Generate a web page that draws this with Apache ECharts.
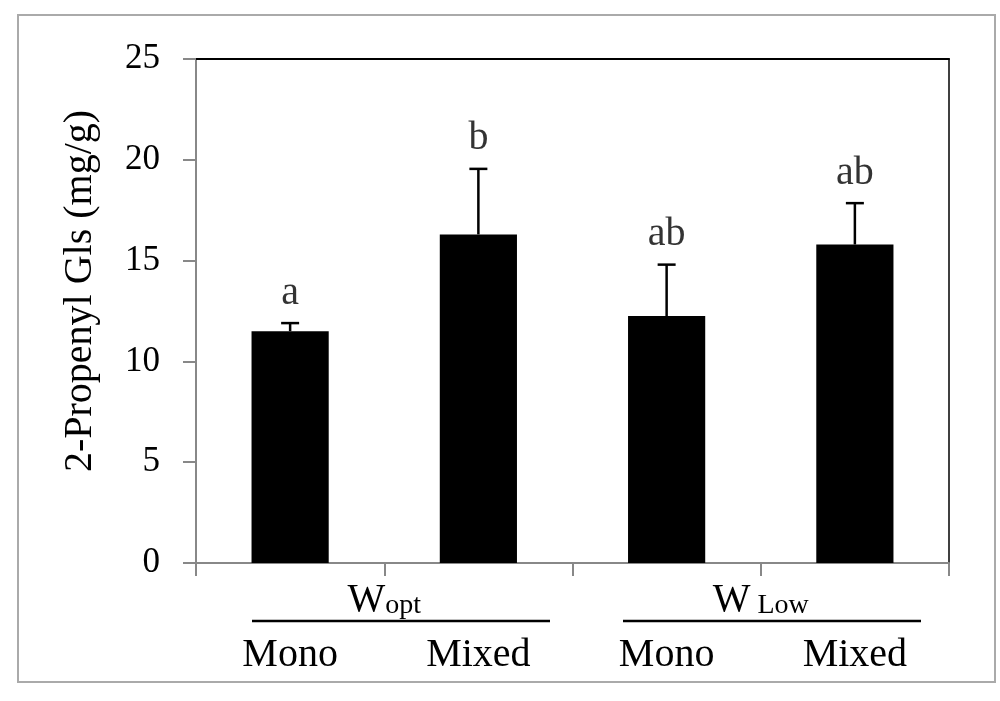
<!DOCTYPE html>
<html>
<head>
<meta charset="utf-8">
<script src="https://cdn.jsdelivr.net/npm/echarts@6/dist/echarts.min.js"></script>
<style>html,body{margin:0;padding:0;background:#fff;}#c{width:1000px;height:701px;}</style>
</head>
<body>
<div id="c"></div>
<script>
const categories = ['Mono', 'Mixed', 'Mono', 'Mixed'];
const groups = ['opt', 'Low'];
const means = [11.5, 16.3, 12.25, 15.8];
const errors = [0.4, 3.25, 2.55, 2.05];
const letters = ['a', 'b', 'ab', 'ab'];
const yMin = 0, yMax = 25, yStep = 5;

const F = 'Liberation Serif, Times New Roman, serif';
const chart = echarts.init(document.getElementById('c'));

const option = {
  animation: false,
  backgroundColor: '#fff',
  grid: { left: 196, right: 51, top: 59, bottom: 138, containLabel: false },
  xAxis: [
    {
      type: 'category', data: categories, position: 'bottom',
      axisLine: { show: true, lineStyle: { color: '#888', width: 2 } },
      axisTick: { show: true, length: 13, lineStyle: { color: '#888', width: 2 } },
      axisLabel: { margin: 72, color: '#000', fontFamily: F, fontSize: 40, lineHeight: 40 }
    },
    {
      type: 'category', data: groups, position: 'bottom',
      axisLine: { show: false }, axisTick: { show: false },
      axisLabel: {
        margin: 17, color: '#000', fontFamily: F,
        formatter: v => v === 'opt' ? '{w|W}{s|opt}' : '{w|W}{s| Low}',
        rich: {
          w: { fontFamily: F, fontSize: 40, lineHeight: 40, color: '#000' },
          s: { fontFamily: F, fontSize: 28, lineHeight: 28, color: '#000', verticalAlign: 'bottom' }
        }
      }
    },
    {
      type: 'category', data: categories, position: 'top',
      axisLine: { show: true, lineStyle: { color: '#000', width: 2 } },
      axisTick: { show: false }, axisLabel: { show: false }
    }
  ],
  yAxis: [
    {
      type: 'value', min: yMin, max: yMax, interval: yStep,
      name: '2-Propenyl Gls (mg/g)', nameLocation: 'middle', nameGap: 96, nameRotate: 90,
      nameTextStyle: { fontFamily: F, fontSize: 40, color: '#000', padding: [0, 0, 0, 40] },
      axisLine: { show: true, lineStyle: { color: '#888', width: 2 } },
      axisTick: { show: true, length: 13, lineStyle: { color: '#888', width: 2 } },
      axisLabel: { margin: 36, color: '#000', fontFamily: F, fontSize: 35 },
      splitLine: { show: false }
    },
    {
      type: 'value', min: yMin, max: yMax, interval: yStep, position: 'right',
      axisLine: { show: true, lineStyle: { color: '#000', width: 1.5 } },
      axisTick: { show: false }, axisLabel: { show: false }, splitLine: { show: false }
    }
  ],
  series: [
    {
      type: 'bar', xAxisIndex: 0, yAxisIndex: 0, data: means, barWidth: '41%',
      itemStyle: { color: '#000' }
    },
    {
      type: 'custom', xAxisIndex: 0, yAxisIndex: 0,
      data: means.map((m, i) => [i, m, m + errors[i]]),
      renderItem: (params, api) => {
        const b = api.coord([api.value(0), api.value(1)]);
        const t = api.coord([api.value(0), api.value(2)]);
        const st = { stroke: '#000', lineWidth: 2.5 };
        return {
          type: 'group', children: [
            { type: 'line', shape: { x1: b[0], y1: b[1], x2: t[0], y2: t[1] }, style: st },
            { type: 'line', shape: { x1: t[0] - 9, y1: t[1], x2: t[0] + 9, y2: t[1] }, style: st }
          ]
        };
      },
      z: 3
    },
    {
      type: 'scatter', xAxisIndex: 0, yAxisIndex: 0, symbolSize: 0,
      data: means.map((m, i) => [i, m + errors[i]]),
      label: {
        show: true, position: 'top', distance: 10, color: '#000', fontFamily: F, fontSize: 40,
        formatter: p => letters[p.dataIndex]
      }
    }
  ],
  graphic: [
    { type: 'rect', shape: { x: 18, y: 15, width: 977, height: 667 }, style: { fill: 'none', stroke: '#aaa', lineWidth: 2 }, silent: true },
    { type: 'line', shape: { x1: 252, y1: 621, x2: 550, y2: 621 }, style: { stroke: '#000', lineWidth: 2.5 }, silent: true },
    { type: 'line', shape: { x1: 623, y1: 621, x2: 921, y2: 621 }, style: { stroke: '#000', lineWidth: 2.5 }, silent: true }
  ]
};
chart.setOption(option);
</script>
</body>
</html>
